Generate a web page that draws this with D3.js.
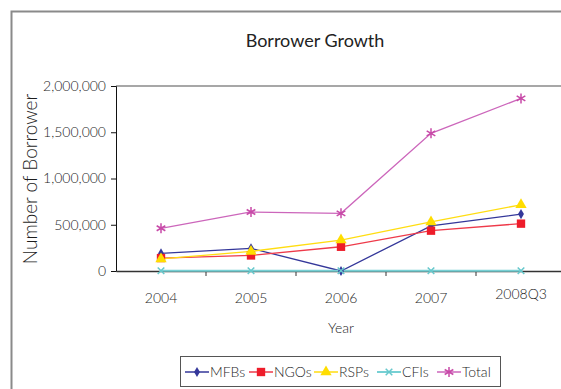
<!DOCTYPE html>
<html><head><meta charset="utf-8">
<script src="https://cdn.jsdelivr.net/npm/d3@7/dist/d3.min.js"></script>
<style>
html,body{margin:0;padding:0;background:#fff;}
svg{display:block;font-family:Lato,"Open Sans",sans-serif;font-weight:300;}
</style></head>
<body>
<svg id="chart" width="561" height="389"></svg>
<script>
const years = ["2004","2005","2006","2007","2008Q3"];
const mfbs  = [190000, 245000, 0, 488000, 615000];
const ngos  = [140000, 168000, 262000, 436000, 512000];
const rsps  = [130000, 212000, 334000, 530000, 716000];
const cfis  = [3000, 3000, 3000, 3000, 3000];
const total = [462000, 638000, 624000, 1488000, 1866000];
const yTicks = [0, 500000, 1000000, 1500000, 2000000];
const seriesNames = ["MFBs","NGOs","RSPs","CFIs","Total"];

const series = [
  {name: seriesNames[0], values: mfbs,  line:"#34379a", fill:"#34379a", sym:"diamond"},
  {name: seriesNames[1], values: ngos,  line:"#ee3a4a", fill:"#ee1c2a", sym:"square"},
  {name: seriesNames[2], values: rsps,  line:"#ffdd11", fill:"#ffdd00", sym:"triangle"},
  {name: seriesNames[3], values: cfis,  line:"#77d0d4", fill:"#66c8cc", sym:"x"},
  {name: seriesNames[4], values: total, line:"#cc66bb", fill:"#c84aa8", sym:"star"}
];

const svg = d3.select("#chart");
const textColor = "#1e1e1e";

// outer chart frame
svg.append("path").attr("d","M11.5,389 L11.5,11.5 L561,11.5")
  .attr("fill","none").attr("stroke","#8a8a8a").attr("stroke-width",2);

const L = 116, R = 566, T = 86, B = 271;
const x = d3.scaleBand().domain(years).range([L, R]);
const y = d3.scaleLinear().domain([0, 2000000]).range([B, T]);

// plot area top border
svg.append("line").attr("x1",L).attr("x2",R).attr("y1",T).attr("y2",T)
  .attr("stroke","#8a8a8a").attr("stroke-width",1.5);

// y axis
const yAxis = d3.axisLeft(y).tickValues(yTicks).tickSize(5).tickPadding(5)
  .tickFormat(d3.format(","));
const gy = svg.append("g").attr("transform",`translate(${L},0)`).call(yAxis);
gy.select(".domain").attr("stroke","#111");
gy.selectAll(".tick line").attr("stroke","#111");
gy.selectAll("text").attr("fill",textColor).style("font-size","14px")
  .style("font-family","Lato, sans-serif").style("font-weight","300");

// x axis
const xAxis = d3.axisBottom(x).tickSize(0).tickPadding(22);
const gx = svg.append("g").attr("transform",`translate(0,${B})`).call(xAxis);
gx.select(".domain").attr("stroke","#333").attr("stroke-width",1.5);
gx.selectAll("text").attr("fill",textColor).style("font-size","14px")
  .style("font-family","Lato, sans-serif").style("font-weight","300")
  .attr("dy", (d)=> d === "2008Q3" ? "0.45em" : "0.71em");
// category boundary ticks
svg.append("g").selectAll("line").data(years.slice(1)).join("line")
  .attr("x1", d=>x(d)).attr("x2", d=>x(d)).attr("y1",B).attr("y2",B+5)
  .attr("stroke","#333");

// titles
svg.append("text").attr("x",315).attr("y",47).attr("text-anchor","middle")
  .attr("fill","#222").style("font-size","18px").style("font-weight","400").text("Borrower Growth");
svg.append("text").attr("transform","translate(36.5,179) rotate(-90)")
  .attr("text-anchor","middle").attr("fill",textColor).style("font-size","19px")
  .text("Number of Borrower");
svg.append("text").attr("x",x("2006")+x.bandwidth()/2).attr("y",333)
  .attr("text-anchor","middle").attr("fill",textColor).style("font-size","14px")
  .text("Year");

const cx = d => x(d) + x.bandwidth()/2;
const symMap = {diamond:d3.symbolDiamond, square:d3.symbolSquare, triangle:d3.symbolTriangle,
  x:d3.symbolTimes, star:d3.symbolAsterisk};
const symSize = {diamond:30, square:70, triangle:55, x:30, star:70};

function drawMarker(g, s, px, py){
  const path = d3.symbol().type(symMap[s.sym]).size(symSize[s.sym])();
  const m = g.append("path").attr("d", path).attr("transform",`translate(${px},${py})`);
  if (s.sym === "x" || s.sym === "star") {
    m.attr("fill","none").attr("stroke", s.fill).attr("stroke-width", 1.5);
  } else {
    m.attr("fill", s.fill).attr("stroke","none");
  }
}

const lineGen = d3.line().x((d,i)=>cx(years[i])).y(d=>y(d));
const plot = svg.append("g");
series.forEach(s=>{
  plot.append("path").datum(s.values).attr("d", lineGen)
    .attr("fill","none").attr("stroke", s.line)
    .attr("stroke-width", s.sym === "x" ? 2 : 1.3);
});
series.forEach(s=>{
  s.values.forEach((v,i)=> drawMarker(plot, s, cx(years[i]), y(v)));
});

// legend
const lg = svg.append("g");
lg.append("rect").attr("x",180.5).attr("y",356.5).attr("width",320).attr("height",30)
  .attr("fill","#fff").attr("stroke","#555").attr("stroke-width",1);
const legX = [185, 249, 314, 377, 437];
series.forEach((s,i)=>{
  const lx = legX[i];
  lg.append("line").attr("x1",lx).attr("x2",lx+24).attr("y1",372).attr("y2",372)
    .attr("stroke", s.line).attr("stroke-width", s.sym === "x" ? 2 : 1.5);
  drawMarker(lg, s, lx+12, 372);
  lg.append("text").attr("x",lx+25).attr("y",372).attr("dy","0.35em")
    .attr("fill",textColor).style("font-size","14px").text(s.name);
});
</script>
</body></html>
